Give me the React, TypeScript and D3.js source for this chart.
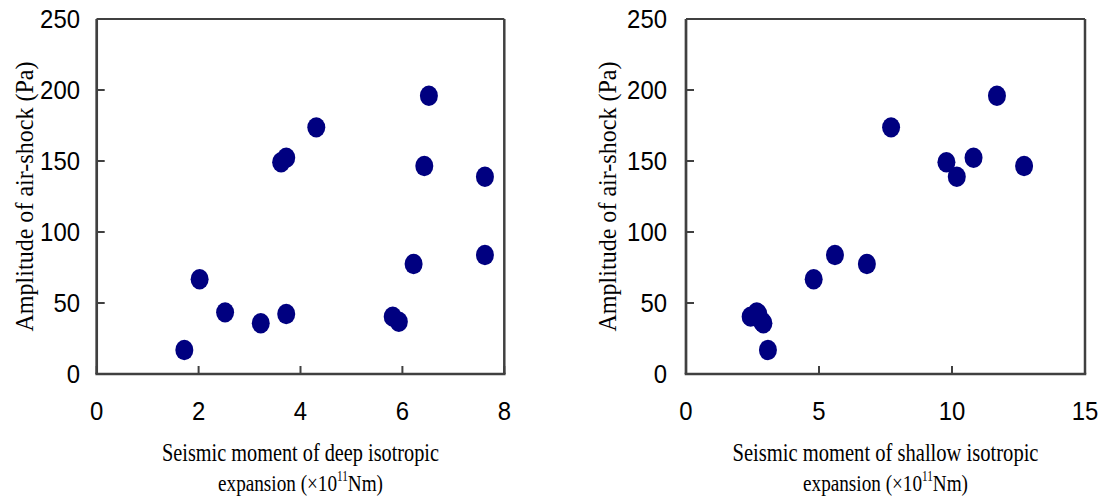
import React from "react";
import * as d3 from "d3";

// Amplitude of air-shock (Pa) for each event
const amplitude = [16.9, 66.7, 43.4, 35.7, 42.3, 40.4, 36.8, 77.5, 83.8, 149.1, 152.3, 173.7, 196, 146.5, 138.9];
// Seismic moment of deep isotropic expansion (x10^11 Nm)
const deepMoment = [1.72, 2.02, 2.52, 3.22, 3.72, 5.81, 5.93, 6.22, 7.62, 3.62, 3.72, 4.31, 6.52, 6.43, 7.62];
// Seismic moment of shallow isotropic expansion (x10^11 Nm)
const shallowMoment = [3.08, 4.8, 2.66, 2.91, 2.72, 2.43, 2.86, 6.8, 5.6, 9.79, 10.81, 7.71, 11.69, 12.71, 10.18];

const yTicks = [0, 50, 100, 150, 200, 250];
const deepTicks = [0, 2, 4, 6, 8];
const shallowTicks = [0, 5, 10, 15];

const yTitle = "Amplitude of air-shock (Pa)";
const deepTitle = "Seismic moment of deep isotropic";
const shallowTitle = "Seismic moment of shallow isotropic";

const SANS = "'Liberation Sans', Arial, sans-serif";
const SERIF = "'Liberation Serif', 'Times New Roman', serif";
const NAVY = "#000080";
const FRAME = "#404040";

type PanelProps = {
  xs: number[];
  xDomain: [number, number];
  xTicks: number[];
  x0: number;
  x1: number;
  titleLine1: string;
  title1Len: number;
  yTitleX: number;
  tickRight: number;
};

function Panel({ xs, xDomain, xTicks, x0, x1, titleLine1, title1Len, yTitleX, tickRight }: PanelProps) {
  const top = 19;
  const bottom = 374;
  const x = d3.scaleLinear().domain(xDomain).range([x0, x1]);
  const y = d3.scaleLinear().domain([0, 250]).range([bottom, top]);
  const cx = (x0 + x1) / 2;
  const cy = (top + bottom) / 2;
  const tickLen = 8;
  return (
    <g>
      {/* frame */}
      <line x1={x0} x2={x1} y1={top} y2={top} stroke={FRAME} strokeWidth={2.2} />
      <line x1={x1} x2={x1} y1={top} y2={bottom} stroke={FRAME} strokeWidth={2.5} />
      <line x1={x0} x2={x0} y1={top} y2={bottom} stroke={FRAME} strokeWidth={2.7} />
      <line x1={x0 - 1.3} x2={x1 + 1.25} y1={bottom} y2={bottom} stroke={FRAME} strokeWidth={2.7} />
      {/* y ticks */}
      {yTicks.map((t) => (
        <g key={"y" + t}>
          <line x1={x0} x2={x0 + tickLen} y1={y(t)} y2={y(t)} stroke={FRAME} strokeWidth={2} />
          <text
            transform={`translate(${tickRight},${y(t) + 9.3}) scale(0.92,1)`}
            textAnchor="end"
            fontFamily={SANS}
            fontSize={26}
            fill="#000"
          >
            {t}
          </text>
        </g>
      ))}
      {/* x ticks */}
      {xTicks.map((t) => (
        <g key={"x" + t}>
          <line x1={x(t)} x2={x(t)} y1={bottom} y2={bottom - tickLen} stroke={FRAME} strokeWidth={2} />
          <text
            transform={`translate(${x(t)},420) scale(0.92,1)`}
            textAnchor="middle"
            fontFamily={SANS}
            fontSize={26}
            fill="#000"
          >
            {t}
          </text>
        </g>
      ))}
      {/* points */}
      {xs.map((v, i) => (
        <ellipse key={i} cx={x(v)} cy={y(amplitude[i])} rx={9} ry={10.2} fill={NAVY} />
      ))}
      {/* y title */}
      <text
        transform={`translate(${yTitleX},${cy}) rotate(-90)`}
        textAnchor="middle"
        fontFamily={SERIF}
        fontSize={25}
        textLength={270}
        lengthAdjust="spacingAndGlyphs"
        fill="#000"
      >
        {yTitle}
      </text>
      {/* x title */}
      <text
        x={cx}
        y={460.5}
        textAnchor="middle"
        fontFamily={SERIF}
        fontSize={25}
        textLength={title1Len}
        lengthAdjust="spacingAndGlyphs"
        fill="#000"
      >
        {titleLine1}
      </text>
      <text
        transform={`translate(${cx},490.5) scale(0.8,1)`}
        textAnchor="middle"
        fontFamily={SERIF}
        fontSize={24}
        fill="#000"
      >
        expansion (×10<tspan fontSize={14} dy={-10}>11</tspan><tspan dy={10}>Nm)</tspan>
      </text>
    </g>
  );
}

export default function App() {
  return (
    <svg
      width={1106}
      height={497}
      style={{ position: "absolute", left: 0, top: 0, background: "#fff" }}
    >
      <rect x={0} y={0} width={1106} height={497} fill="#fff" />
      <Panel
        xs={deepMoment}
        xDomain={[0, 8]}
        xTicks={deepTicks}
        x0={96.7}
        x1={504.3}
        titleLine1={deepTitle}
        title1Len={277}
        yTitleX={32.5}
        tickRight={80}
      />
      <Panel
        xs={shallowMoment}
        xDomain={[0, 15]}
        xTicks={shallowTicks}
        x0={686}
        x1={1085}
        titleLine1={shallowTitle}
        title1Len={306}
        yTitleX={616}
        tickRight={667}
      />
    </svg>
  );
}
